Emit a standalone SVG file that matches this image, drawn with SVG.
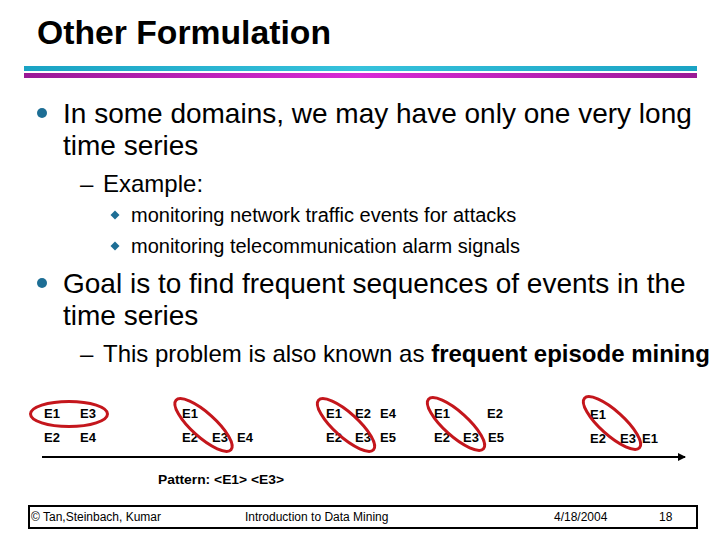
<svg xmlns="http://www.w3.org/2000/svg" width="720" height="540" viewBox="0 0 720 540">
<defs>
<linearGradient id="gc" x1="0" y1="0" x2="1" y2="0">
<stop offset="0" stop-color="#1aa3c4"/><stop offset="0.5" stop-color="#36c2dc"/><stop offset="1" stop-color="#1aa3c4"/>
</linearGradient>
<linearGradient id="gm" x1="0" y1="0" x2="1" y2="0">
<stop offset="0" stop-color="#9a1a96"/><stop offset="0.5" stop-color="#d92ad6"/><stop offset="1" stop-color="#9a1a96"/>
</linearGradient>
<marker id="ah" markerWidth="8" markerHeight="8" refX="7" refY="4" orient="auto" markerUnits="userSpaceOnUse">
<path d="M0,0 L8,4 L0,8 Z" fill="#000"/>
</marker>
<style>
.t{font-family:"Liberation Sans",Arial,sans-serif;fill:#000}
.l1{font-size:28px}
.l2{font-size:24px}
.l3{font-size:20px}
.ev{font-family:"Liberation Sans",Arial,sans-serif;font-size:13px;font-weight:bold;fill:#000}
.ov{fill:none;stroke:#c4161c;stroke-width:3}
.ft{font-family:"Liberation Sans",Arial,sans-serif;font-size:12px;fill:#000}
.bul{fill:#1d6e95}
</style>
</defs>
<rect width="720" height="540" fill="#fff"/>
<g id="title">
<text class="t" x="37" y="44" font-size="34" font-weight="bold" textLength="294" lengthAdjust="spacingAndGlyphs">Other Formulation</text>
<rect x="24" y="66" width="673" height="5" fill="url(#gc)"/>
<rect x="24" y="73" width="673" height="5" fill="url(#gm)"/>
</g>
<g id="bullets">
<circle class="bul" cx="42" cy="113" r="5"/>
<text class="t l1" x="63" y="123">In some domains, we may have only one very long</text>
<text class="t l1" x="63" y="155">time series</text>
<text class="t l2" x="80" y="192">–</text>
<text class="t l2" x="103" y="192">Example:</text>
<path class="bul" d="M115,210.5 L119.5,215 L115,219.5 L110.5,215 Z"/>
<text class="t l3" x="131" y="222">monitoring network traffic events for attacks</text>
<path class="bul" d="M115,241.5 L119.5,246 L115,250.5 L110.5,246 Z"/>
<text class="t l3" x="131" y="253">monitoring telecommunication alarm signals</text>
<circle class="bul" cx="42" cy="283" r="5"/>
<text class="t l1" x="63" y="293">Goal is to find frequent sequences of events in the</text>
<text class="t l1" x="63" y="325">time series</text>
<text class="t l2" x="80" y="362">–</text>
<text class="t l2" x="103" y="362">This problem is also known as <tspan font-weight="bold">frequent episode mining</tspan></text>
</g>
<g id="events">
<text class="ev" x="44" y="418">E1</text>
<text class="ev" x="80" y="418">E3</text>
<text class="ev" x="44" y="442">E2</text>
<text class="ev" x="80" y="442">E4</text>
<text class="ev" x="182" y="418">E1</text>
<text class="ev" x="182" y="442">E2</text>
<text class="ev" x="212" y="442">E3</text>
<text class="ev" x="237" y="442">E4</text>
<text class="ev" x="326" y="418">E1</text>
<text class="ev" x="355" y="418">E2</text>
<text class="ev" x="380" y="418">E4</text>
<text class="ev" x="326" y="442">E2</text>
<text class="ev" x="355" y="442">E3</text>
<text class="ev" x="380" y="442">E5</text>
<text class="ev" x="434" y="418">E1</text>
<text class="ev" x="487" y="418">E2</text>
<text class="ev" x="434" y="442">E2</text>
<text class="ev" x="463" y="442">E3</text>
<text class="ev" x="488" y="442">E5</text>
<text class="ev" x="590" y="419">E1</text>
<text class="ev" x="590" y="443">E2</text>
<text class="ev" x="620" y="443">E3</text>
<text class="ev" x="642" y="443">E1</text>
</g>
<g id="connectors">
<line x1="42" y1="457" x2="685" y2="457" stroke="#000" stroke-width="2" marker-end="url(#ah)"/>
</g>
<g id="ovals">
<ellipse class="ov" cx="69" cy="414" rx="38.5" ry="12.5"/>
<ellipse class="ov" cx="203.5" cy="425" rx="37" ry="12" transform="rotate(42 203.5 425)"/>
<ellipse class="ov" cx="346" cy="425" rx="37" ry="12" transform="rotate(42 346 425)"/>
<ellipse class="ov" cx="456" cy="424" rx="37" ry="12" transform="rotate(42 456 424)"/>
<ellipse class="ov" cx="612" cy="423" rx="37" ry="12" transform="rotate(42 612 423)"/>
</g>
<g id="pattern">
<text class="ev" x="158" y="484" font-size="13" textLength="126" lengthAdjust="spacingAndGlyphs">Pattern: &lt;E1&gt; &lt;E3&gt;</text>
</g>
<g id="footer">
<rect x="29" y="506" width="668" height="22" fill="none" stroke="#000" stroke-width="2"/>
<text class="ft" x="31" y="521">© Tan,Steinbach, Kumar</text>
<text class="ft" x="245" y="521">Introduction to Data Mining</text>
<text class="ft" x="554" y="521">4/18/2004</text>
<text class="ft" x="659" y="521">18</text>
</g>
</svg>
